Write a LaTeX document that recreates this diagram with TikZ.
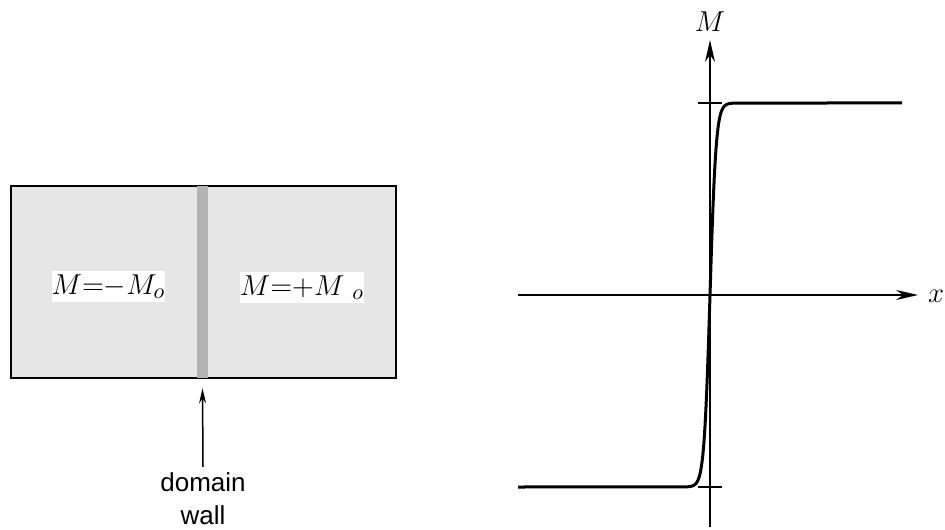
\documentclass[tikz,border=0pt]{standalone}
\usepackage{fontspec}
\setsansfont{Liberation Sans}
\usetikzlibrary{arrows.meta,positioning,calc}
\definecolor{slabgray}{HTML}{E6E6E6}
\definecolor{wallgray}{HTML}{B3B3B3}
\tikzset{
  slab/.style={draw=black, line width=0.6pt, fill=slabgray, minimum width=192.5pt, minimum height=96pt, inner sep=0pt},
  wallbar/.style={fill=wallgray, minimum width=5.5pt, minimum height=96pt, inner sep=0pt},
  maglabel/.style={fill=white, inner sep=0pt, minimum height=15.5pt, font=\fontsize{15.5}{17}\selectfont},
  axis/.style={-{Stealth[length=11pt,width=5pt]}, line width=0.75pt},
  pointer/.style={-{Stealth[length=7.5pt,width=3.5pt]}, line width=0.75pt},
  profile/.style={line width=1.5pt, line join=round},
  tick/.style={line width=0.6pt}
}

\begin{document}
\begin{tikzpicture}[x=0.5pt, y=0.5pt]
  \useasboundingbox (0,0) rectangle (945,529);
  % sample with the wall
  \node[slab] (sample) at (203.5,247) {};
  \node[wallbar] (wall) at (202.5,247) {};
  \node[maglabel, minimum width=49.5pt] (left) at (108.5,242.5) {$M{=}{-}M_{o}$};
  \node[maglabel, minimum width=55.5pt] (right) at (302,241) {$M{=}{+}M\;{}_{o}$};
  \node[align=center, font=\sffamily\fontsize{13}{16.5}\selectfont] (walltext) at (203,30) {domain\\wall};
  \coordinate (tail) at (203,62);
  \draw[pointer] (tail) -- ([yshift=-5pt]wall.south);
  % magnetisation profile
  \coordinate (origin) at (710,234);
  \coordinate (ybot) at (710,2);
  \coordinate (ytop) at (710,489);
  \coordinate (xleft) at (518,234);
  \coordinate (xright) at (918,234);
  \draw[axis] (ybot) -- (ytop);
  \draw[axis] (xleft) -- (xright);
  \node (Mlabel) at (710,507) {\fontsize{15.5}{17}\selectfont$M$};
  \node (xlabel) at (936,233) {\fontsize{15.5}{17}\selectfont$x$};
  \draw[tick] (698,426) -- (722,426);
  \draw[tick] (698,42) -- (722,42);
  \draw[profile] (518,42) -- plot[domain=680:740, samples=121] ({\x},{234+192*tanh((\x-710)/6)}) -- (902,426);
\end{tikzpicture}
\end{document}
